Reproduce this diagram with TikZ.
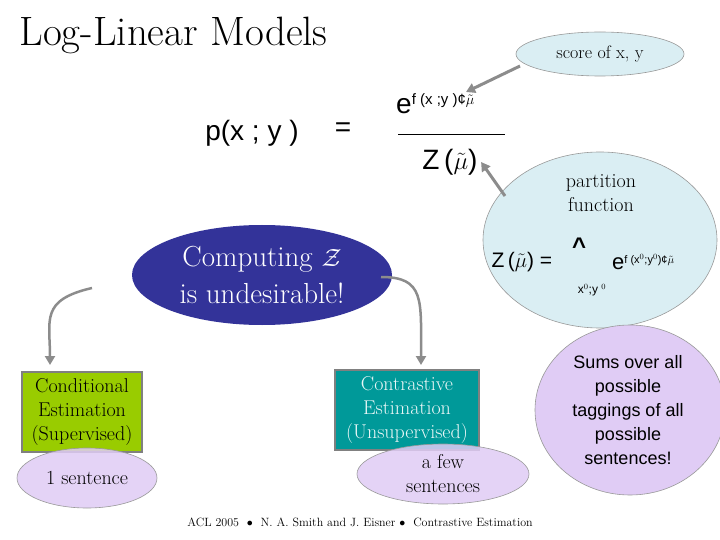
\documentclass[tikz,border=0pt]{standalone}
\usepackage{fontspec}
\newfontfamily\sans{Liberation Sans}
\usetikzlibrary{arrows.meta}
\definecolor{lblue}{HTML}{DAEEF3}
\definecolor{lav}{HTML}{E0CCF5}
\definecolor{dblue}{HTML}{333399}
\definecolor{lgreen}{HTML}{99CC00}
\definecolor{teal2}{HTML}{009999}
\newcommand{\mut}{$\tilde{\mu}$}
\tikzset{
 bub/.style={draw=gray!80, line width=0.6pt},
 arr/.style={draw=gray!90, line width=3pt, -{Triangle[length=9pt,width=10pt]}},
 fs/.style={font=\sans\fontsize{28}{30}\selectfont},
 lab/.style={font=\fontsize{20}{24}\selectfont, align=center},
}
\begin{document}
\begin{tikzpicture}[x=1pt,y=-1pt]
\useasboundingbox[fill=white] (0,0) rectangle (720,540);
\node[anchor=west, font=\fontsize{41}{44}\selectfont] (title) at (16,35) {Log-Linear Models};
% big partition circle
\draw[bub, fill=lblue] (600,240) ellipse [x radius=117, y radius=88];
\coordinate (pc) at (505,196);
\node[lab] (part) at (601,193) {partition\\function};
\node[anchor=west, font=\sans\fontsize{21}{24}\selectfont] (zsum) at (488,262) {Z\,(\mut) = };
\node[font=\sans\bfseries\fontsize{24}{24}\selectfont] (hat) at (579,246) {\char"005E};
\node[font=\sans\fontsize{22}{24}\selectfont, anchor=west, inner sep=0pt] (ez) at (612,262) {e\raisebox{6pt}{\fontsize{11}{12}\selectfont f (x$^0$;y$^0$)¢\mut}};
\node[font=\sans\fontsize{12}{12}\selectfont] (sub) at (592,290) {x$^0$;y $^0$};
% score ellipse
\draw[bub, fill=lblue] (600,54) ellipse [x radius=84, y radius=22];
\node[font=\fontsize{18}{20}\selectfont] (score) at (600,54) {score of x, y};
% formula
\node[fs] (p) at (252,133) {p(x ; y )};
\node[fs] (eq) at (343,130) {=};
\node[font=\sans\fontsize{28}{30}\selectfont, anchor=west, inner sep=0pt] (num) at (396,104) {e\raisebox{9pt}{\fontsize{15}{15}\selectfont f (x ;y )¢\mut}};
\draw[line width=0.5pt] (398,134) -- (505,134);
\node[fs] (den) at (450,162) {Z\,(\mut)};
\draw[arr] (520,66) -- (466,92);
\draw[arr] (pc) -- (den.east);
% sums bubble
\draw[bub, fill=lav] (630,410) ellipse [x radius=95, y radius=85];
\node[font=\sans\fontsize{18}{24}\selectfont, align=center] (sums) at (628,410) {Sums over all\\possible\\taggings of all\\possible\\sentences!};
% dark ellipse
\fill[dblue] (262,275) ellipse [x radius=130, y radius=50];
\node[text=white, font=\fontsize{29}{37}\selectfont, align=center] (comp) at (262,275) {Computing $\mathcal{Z}$\\is undesirable!};
% boxes
\node[draw=gray, line width=1.2pt, fill=lgreen, minimum width=120, minimum height=80, inner sep=1pt, lab] (cond) at (82,412) {Conditional\\Estimation\\(Supervised)};
\node[draw=gray, line width=1.2pt, fill=teal2, text=white!92!teal2, minimum width=144, minimum height=80, inner sep=1pt, lab] (contr) at (407,410) {Contrastive\\Estimation\\(Unsupervised)};
\draw[bub, fill=lav, fill opacity=0.85] (87,478) ellipse [x radius=70, y radius=30];
\node[lab] (one) at (87,478) {1 sentence};
\draw[bub, fill=lav, fill opacity=0.85] (443,474) ellipse [x radius=86, y radius=30];
\node[lab] (few) at (443,474) {a few\\sentences};
% curved arrows
\coordinate (l1) at (92,288);
\coordinate (r1) at (381,277);
\draw[arr, line width=2.5pt] (l1) .. controls (40,300) and (50,320) .. (50,365);
\draw[arr, line width=2.5pt] (r1) .. controls (425,277) and (421,300) .. (421,365);
\node[font=\fontsize{12}{14}\selectfont] (foot) at (360,522) {ACL 2005 \ $\bullet$ \ N. A. Smith and J. Eisner $\bullet$ \ Contrastive Estimation};
\end{tikzpicture}
\end{document}
